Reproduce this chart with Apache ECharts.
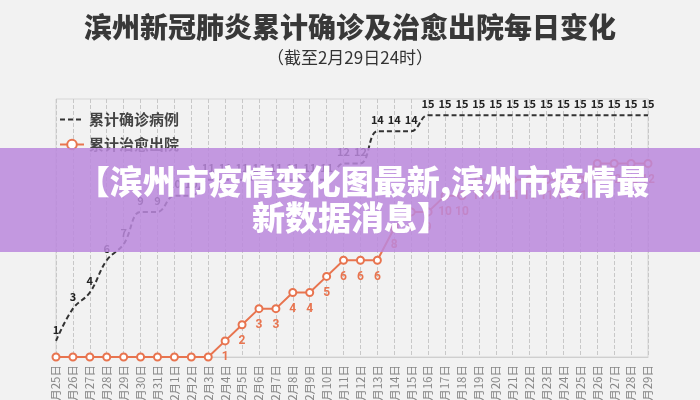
<!DOCTYPE html>
<html>

<head>
    <meta charset="UTF-8">
    <title>滨州新冠肺炎累计确诊及治愈出院每日变化</title>
    <script type="text/javascript" src="https://cdn.jsdelivr.net/npm/echarts@6/dist/echarts.min.js"></script>
</head>

<body style="margin: 0;padding: 0;background:#f2f2f2;">
    <div id="container" style="width:700px; height:400px;"></div>
    <script>
        // 日期（1月25日 ~ 2月29日）
        var dates = ['1月25日', '1月26日', '1月27日', '1月28日', '1月29日', '1月30日', '1月31日',
            '2月1日', '2月2日', '2月3日', '2月4日', '2月5日', '2月6日', '2月7日', '2月8日', '2月9日',
            '2月10日', '2月11日', '2月12日', '2月13日', '2月14日', '2月15日', '2月16日', '2月17日',
            '2月18日', '2月19日', '2月20日', '2月21日', '2月22日', '2月23日', '2月24日', '2月25日',
            '2月26日', '2月27日', '2月28日', '2月29日'];
        // 累计确诊病例
        var confirmed = [1, 3, 4, 6, 7, 9, 9, 10, 10, 11, 11, 11, 11, 11, 11, 11, 11, 12, 12, 14, 14, 14,
            15, 15, 15, 15, 15, 15, 15, 15, 15, 15, 15, 15, 15, 15];
        // 累计治愈出院
        var cured = [0, 0, 0, 0, 0, 0, 0, 0, 0, 0, 1, 2, 3, 3, 4, 4, 5, 6, 6, 6, 8, 9,
            9, 10, 10, 11, 11, 11, 11, 11, 11, 11, 12, 12, 12, 12];
        var names = ['累计确诊病例', '累计治愈出院'];

        var font = '"Noto Sans CJK SC", "Noto Sans", sans-serif';
        var orange = '#e8744f';
        var chart = echarts.init(document.getElementById('container'), null, { renderer: 'canvas' });

        var option = {
            backgroundColor: '#f2f2f2',
            textStyle: { fontFamily: font },
            title: {
                text: '滨州新冠肺炎累计确诊及治愈出院每日变化',
                subtext: '（截至2月29日24时）',
                left: 'center',
                top: 8,
                itemGap: 8,
                textStyle: { fontSize: 28, fontWeight: 900, color: '#383838', fontFamily: font },
                subtextStyle: { fontSize: 17, color: '#333', fontFamily: font }
            },
            legend: {
                data: [{
                    name: names[0],
                    itemStyle: { color: 'transparent' },
                    lineStyle: { type: [5, 3], color: '#333', width: 2 }
                }, names[1]],
                orient: 'vertical',
                left: 54,
                top: 107,
                itemWidth: 24,
                itemHeight: 12,
                itemGap: 10,
                textStyle: { fontSize: 15, fontWeight: 'bold', color: '#444', fontFamily: font }
            },
            grid: {
                left: 56, right: 52, top: 99, bottom: 43,
                outerBoundsMode: 'none',   // 日期标签允许超出底部（与原图一致）
                show: true,
                borderColor: '#d6d6d6',
                borderWidth: 1
            },
            xAxis: {
                type: 'category',
                data: dates,
                boundaryGap: false,
                axisTick: { show: false },
                axisLine: { lineStyle: { color: '#cfcfcf' } },
                axisLabel: { rotate: 90, fontSize: 11.5, color: '#888', margin: 8, interval: 0 },
                splitLine: { show: true, lineStyle: { type: 'dashed', color: '#c8c8c8' } }
            },
            yAxis: {
                type: 'value',
                min: 0,
                max: 16,
                show: false,
                splitLine: { show: false }
            },
            series: [{
                name: names[0],
                type: 'line',
                data: confirmed,
                smooth: 0.4,
                symbol: 'circle',
                symbolSize: 2,
                showAllSymbol: true,
                lineStyle: { color: '#333', width: 2, type: [5, 3] },
                itemStyle: { color: 'transparent' },
                label: {
                    show: true, position: 'top', distance: 5,
                    fontSize: 11, fontWeight: 'bold', color: '#222'
                },
                z: 3
            }, {
                name: names[1],
                type: 'line',
                data: cured,
                symbol: 'emptyCircle',
                symbolSize: 7,
                showAllSymbol: true,
                lineStyle: { color: orange, width: 2 },
                itemStyle: { color: orange, borderWidth: 1.5 },
                label: {
                    show: true, position: 'bottom', distance: 6,
                    fontSize: 12, fontWeight: 'bold', color: orange,
                    fontFamily: '"Liberation Sans Narrow", "Roboto", sans-serif',
                    formatter: function (p) { return p.value === 0 ? '' : p.value; }
                },
                z: 4
            }],
            // 遮挡在图上的紫色横幅
            graphic: [{
                type: 'rect',
                shape: { x: 0, y: 148, width: 700, height: 104 },
                style: { fill: 'rgba(187,136,221,0.85)' },
                z: 100
            }, {
                type: 'text',
                x: 363, y: 181,
                style: {
                    text: '【滨州市疫情变化图最新,滨州市疫情最',
                    fill: '#fff',
                    font: '900 33px ' + font,
                    textAlign: 'center',
                    textVerticalAlign: 'middle'
                },
                z: 101
            }, {
                type: 'text',
                x: 351, y: 217,
                style: {
                    text: '新数据消息】',
                    fill: '#fff',
                    font: '900 33px ' + font,
                    textAlign: 'center',
                    textVerticalAlign: 'middle'
                },
                z: 101
            }]
        };
        chart.setOption(option);
    </script>
</body>

</html>
